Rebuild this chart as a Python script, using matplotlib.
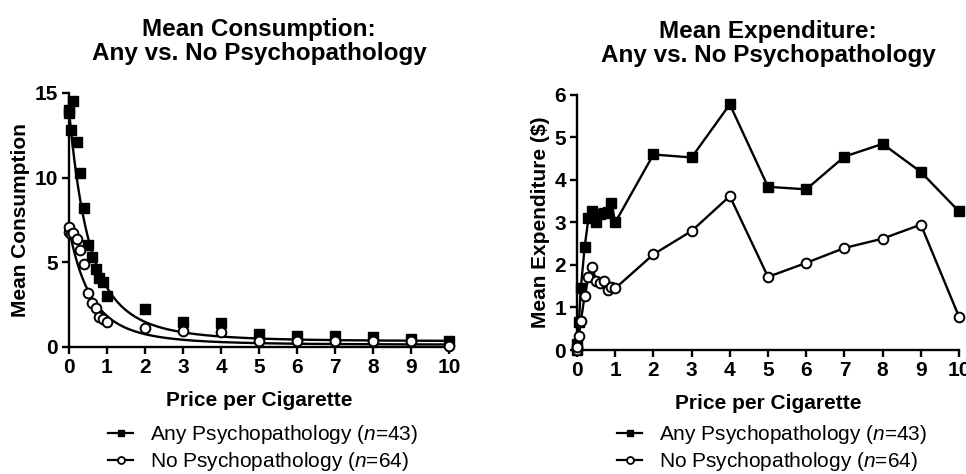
import matplotlib
matplotlib.use("Agg")
import matplotlib.pyplot as plt
import numpy as np

plt.rcParams['font.family'] = ['Liberation Sans', 'DejaVu Sans']
plt.rcParams['mathtext.fontset'] = 'custom'
plt.rcParams['mathtext.rm'] = 'Liberation Sans'
plt.rcParams['mathtext.it'] = 'Liberation Sans:italic'

# data
price = [0, 0.01, 0.05, 0.1, 0.2, 0.3, 0.4, 0.5, 0.6, 0.7, 0.8, 0.9, 1,
         2, 3, 4, 5, 6, 7, 8, 9, 10]
cons_any = [13.8, 14.0, 12.8, 14.5, 12.1, 10.3, 8.2, 6.0, 5.3, 4.6, 4.05, 3.85, 3.0,
            2.27, 1.5, 1.43, 0.76, 0.62, 0.63, 0.6, 0.46, 0.33]
cons_no = [6.8, 7.1, 6.7, 6.75, 6.35, 5.7, 4.9, 3.2, 2.6, 2.3, 1.78, 1.65, 1.45,
           1.12, 0.93, 0.9, 0.34, 0.34, 0.34, 0.33, 0.33, 0.08]
exp_any = [0.0, 0.14, 0.65, 1.45, 2.42, 3.1, 3.28, 3.02, 3.2, 3.23, 3.25, 3.45, 3.0,
           4.6, 4.53, 5.78, 3.84, 3.78, 4.55, 4.85, 4.19, 3.26]
exp_no = [0.0, 0.07, 0.33, 0.68, 1.27, 1.72, 1.95, 1.62, 1.58, 1.62, 1.40, 1.48, 1.45,
          2.25, 2.80, 3.62, 1.72, 2.05, 2.40, 2.62, 2.95, 0.78]

# exponential demand fit parameters (Q0, k, alpha)
fit_any = (14.0, 1.6, 0.0336)
fit_no = (7.0, 1.7, 0.06)

lab_any = 'Any Psychopathology ($n$=43)'
lab_no = 'No Psychopathology ($n$=64)'


def demand(c, q0, k, a):
    return q0 * 10 ** (k * (np.exp(-a * q0 * c) - 1))


fig = plt.figure(figsize=(9.66, 4.74), dpi=100)
ax1 = fig.add_axes([0.0714, 0.268, 0.3934, 0.5358])
ax2 = fig.add_axes([0.5973, 0.2616, 0.3955, 0.538])


def style(ax):
    for s in ['top', 'right']:
        ax.spines[s].set_visible(False)
    for s in ['left', 'bottom']:
        ax.spines[s].set_linewidth(1.7)
    ax.tick_params(direction='out', length=5, width=1.7, labelsize=15, pad=3)
    for t in ax.get_xticklabels() + ax.get_yticklabels():
        t.set_fontweight('bold')
    ax.set_xlim(0, 10)
    ax.set_xticks(range(0, 11))
    ax.set_xlabel('Price per Cigarette', fontsize=15, fontweight='bold', labelpad=10)


# left: consumption
cc = np.linspace(0, 10, 400)
ax1.plot(cc, demand(cc, *fit_any), color='black', lw=1.7)
ax1.plot(cc, demand(cc, *fit_no), color='black', lw=1.7)
ax1.plot(price, cons_any, 's', color='black', ms=6.5, clip_on=False, zorder=3)
ax1.plot(price, cons_no, 'o', mfc='white', mec='black', mew=1.4, ms=7, clip_on=False, zorder=4)
ax1.set_ylim(0, 15)
ax1.set_yticks([0, 5, 10, 15])
ax1.set_ylabel('Mean Consumption', fontsize=15, fontweight='bold', labelpad=3)
ax1.set_title('Mean Consumption:\nAny vs. No Psychopathology', fontsize=17.5,
              fontweight='bold', pad=24, linespacing=1.05)
style(ax1)

# right: expenditure
ax2.plot(price, exp_any, '-s', color='black', lw=1.7, ms=6.5, clip_on=False, zorder=3)
ax2.plot(price, exp_no, '-o', color='black', lw=1.7, mfc='white', mec='black', mew=1.4,
         ms=7, clip_on=False, zorder=4)
ax2.set_ylim(0, 6)
ax2.set_yticks(range(0, 7))
ax2.set_ylabel('Mean Expenditure ($)', fontsize=15, fontweight='bold', labelpad=3)
ax2.set_title('Mean Expenditure:\nAny vs. No Psychopathology', fontsize=17.5,
              fontweight='bold', pad=24, linespacing=1.05)
style(ax2)

# legends below each panel
for ax, x0 in [(ax1, 108 / 966), (ax2, 617 / 966)]:
    h1, = ax.plot([], [], '-s', color='black', lw=1.6, ms=5)
    h2, = ax.plot([], [], '-o', color='black', lw=1.6, ms=5, mfc='white', mec='black', mew=1.3)
    ax.legend([h1, h2], [lab_any, lab_no], loc='upper left',
              bbox_to_anchor=(x0, 1 - 423 / 474), bbox_transform=fig.transFigure,
              frameon=False, fontsize=15, borderpad=0, borderaxespad=0,
              handlelength=1.2, handletextpad=0.8, labelspacing=0.2)

plt.savefig('out.png', dpi=100)
